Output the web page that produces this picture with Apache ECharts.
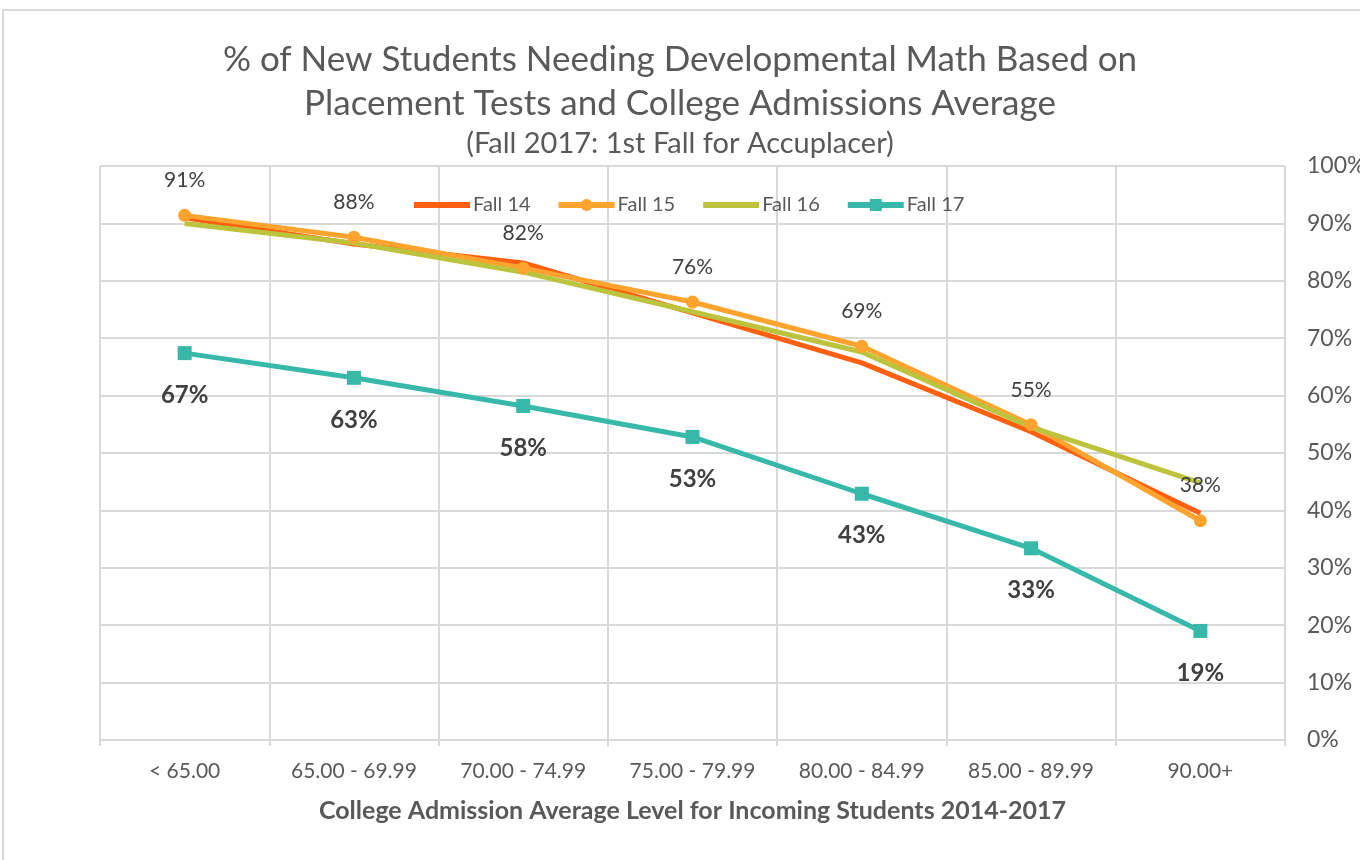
<!DOCTYPE html>
<html>
<head>
<meta charset="utf-8">
<script src="https://cdn.jsdelivr.net/npm/echarts@6/dist/echarts.min.js"></script>
<style>
html, body { margin: 0; padding: 0; background: #fff; }
#main { width: 1360px; height: 860px; }
</style>
</head>
<body>
<div id="main"></div>
<script>
// categories
var levels = ['< 65.00', '65.00 - 69.99', '70.00 - 74.99', '75.00 - 79.99', '80.00 - 84.99', '85.00 - 89.99', '90.00+'];
// series values (%)
var fall14 = [91.0, 86.4, 83.1, 74.4, 65.7, 53.7, 39.5];
var fall15 = [91.4, 87.6, 82.2, 76.3, 68.6, 54.9, 38.2];
var fall16 = [90.0, 86.6, 81.5, 74.6, 67.6, 54.5, 44.8];
var fall17 = [67.4, 63.1, 58.2, 52.8, 42.9, 33.4, 19.0];

var font = 'Lato, "Open Sans", sans-serif';
var grey = '#595959';

var myChart = echarts.init(document.getElementById('main'));

var option = {
    backgroundColor: '#fff',
    textStyle: { fontFamily: font },
    title: [
        {
            text: '% of New Students Needing Developmental Math Based on\nPlacement Tests and College Admissions Average',
            left: 'center',
            top: 33,
            textStyle: { fontFamily: font, fontSize: 35, fontWeight: 'normal', color: grey, lineHeight: 44 }
        },
        {
            text: '(Fall 2017: 1st Fall for Accuplacer)',
            left: 'center',
            top: 124,
            textStyle: { fontFamily: font, fontSize: 29, fontWeight: 'normal', color: grey }
        }
    ],
    graphic: [
        {
            type: 'rect',
            shape: { x: 3, y: 10, width: 1400, height: 900 },
            style: { fill: 'none', stroke: '#d9d9d9', lineWidth: 2 },
            silent: true
        }
    ],
    legend: {
        data: [
            { name: 'Fall 14', itemStyle: { opacity: 0 } },
            { name: 'Fall 15' },
            { name: 'Fall 16', itemStyle: { opacity: 0 } },
            { name: 'Fall 17' }
        ],
        left: 406,
        top: 190,
        itemWidth: 56,
        itemHeight: 15,
        itemGap: 25,
        lineStyle: { width: 6 },
        textStyle: { fontFamily: font, fontSize: 20, color: grey, padding: [0, 0, 0, -2] }
    },
    grid: {
        left: 100,
        right: 75,
        top: 166,
        bottom: 120,
        outerBoundsMode: 'none'
    },
    xAxis: {
        type: 'category',
        data: levels,
        boundaryGap: true,
        name: 'College Admission Average Level for Incoming Students 2014-2017',
        nameLocation: 'middle',
        nameGap: 58,
        nameTextStyle: { fontFamily: font, fontSize: 25, fontWeight: 'bold', color: grey },
        axisLine: { lineStyle: { color: '#d9d9d9', width: 2 } },
        axisTick: { show: true, length: 6, lineStyle: { color: '#d9d9d9', width: 2 } },
        axisLabel: { fontFamily: font, fontSize: 21, color: grey, margin: 21 },
        splitLine: { show: true, lineStyle: { color: '#d9d9d9', width: 2 } }
    },
    yAxis: {
        type: 'value',
        position: 'right',
        min: 0,
        max: 100,
        interval: 10,
        axisLine: { show: false },
        axisTick: { show: false },
        axisLabel: {
            fontFamily: font, fontSize: 23, color: grey, margin: 22,
            formatter: function (v) { return v + '%'; }
        },
        splitLine: { lineStyle: { color: '#d9d9d9', width: 2 } }
    },
    series: [
        {
            name: 'Fall 14',
            type: 'line',
            data: fall14,
            symbol: 'none',
            color: '#ff6010',
            lineStyle: { width: 5, color: '#ff6010' }
        },
        {
            name: 'Fall 15',
            type: 'line',
            data: fall15,
            symbol: 'circle',
            symbolSize: 13,
            color: '#ffa32f',
            lineStyle: { width: 5, color: '#ffa32f' },
            label: {
                show: true,
                position: 'top',
                distance: 18,
                fontFamily: font,
                fontSize: 21,
                color: '#404040',
                formatter: function (p) { return Math.round(p.value) + '%'; }
            }
        },
        {
            name: 'Fall 16',
            type: 'line',
            data: fall16,
            symbol: 'none',
            color: '#bcc33c',
            lineStyle: { width: 5, color: '#bcc33c' }
        },
        {
            name: 'Fall 17',
            type: 'line',
            data: fall17,
            symbol: 'rect',
            symbolSize: 14,
            color: '#37b8a8',
            lineStyle: { width: 5, color: '#37b8a8' },
            label: {
                show: true,
                position: 'bottom',
                distance: 23,
                fontFamily: font,
                fontSize: 24,
                fontWeight: 'bold',
                color: '#404040',
                formatter: function (p) { return Math.round(p.value) + '%'; }
            }
        }
    ]
};

myChart.setOption(option);
window.addEventListener('resize', function () {
    myChart.resize();
});
</script>
</body>
</html>
